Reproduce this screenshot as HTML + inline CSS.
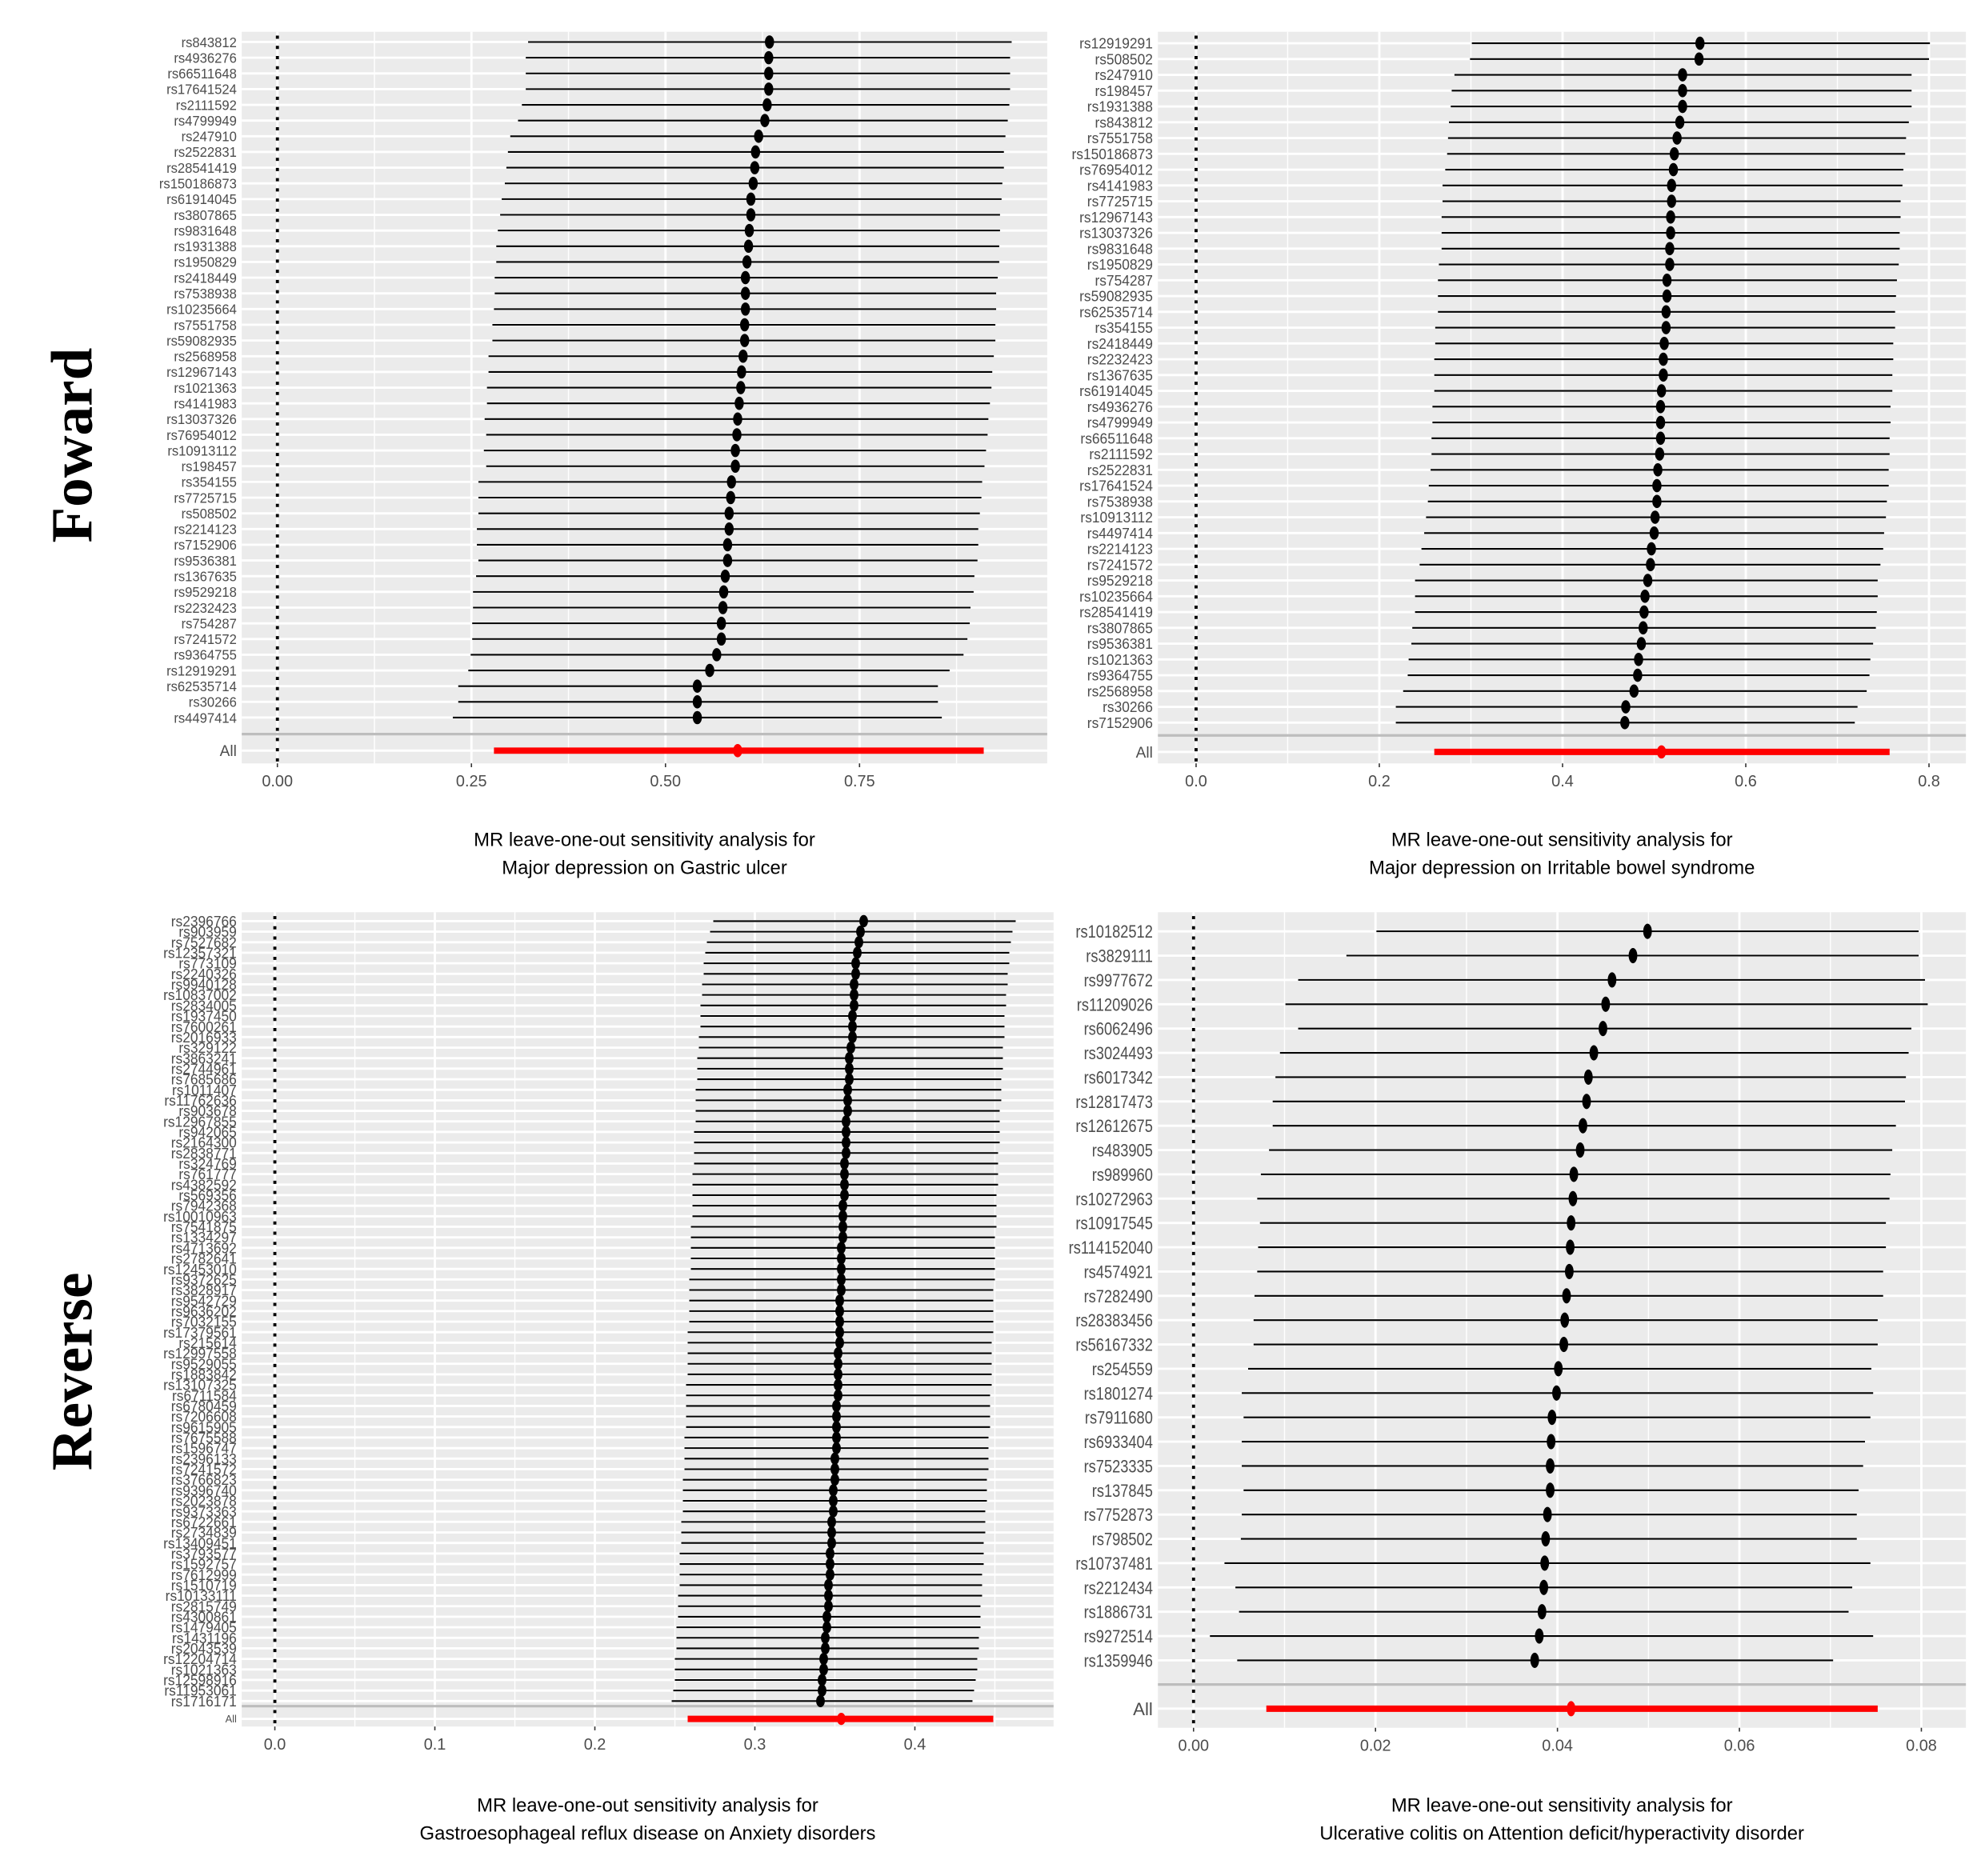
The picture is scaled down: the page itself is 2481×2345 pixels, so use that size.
<!DOCTYPE html>
<html><head><meta charset="utf-8">
<style>
html,body{margin:0;padding:0;background:#fff;}
svg{display:block;}
text{font-family:"Liberation Sans",Arial,sans-serif;}
</style></head>
<body>
<svg id="fig" width="2481" height="2345" viewBox="0 0 1560 1474.5" xmlns="http://www.w3.org/2000/svg">
<rect width="1560" height="1474.5" fill="#fff"/>
<text transform="translate(72,350) rotate(-90)" text-anchor="middle" font-family="Liberation Serif, serif" font-weight="bold" font-size="46" style="font-family:'Liberation Serif',serif">Foward</text>
<text transform="translate(72,1078) rotate(-90)" text-anchor="middle" font-weight="bold" font-size="46" style="font-family:'Liberation Serif',serif">Reverse</text>
</svg>
<script>
// ---------- Panel 1: Major depression on Gastric ulcer ----------
const p1Snps = ["rs843812","rs4936276","rs66511648","rs17641524","rs2111592","rs4799949","rs247910","rs2522831","rs28541419","rs150186873","rs61914045","rs3807865","rs9831648","rs1931388","rs1950829","rs2418449","rs7538938","rs10235664","rs7551758","rs59082935","rs2568958","rs12967143","rs1021363","rs4141983","rs13037326","rs76954012","rs10913112","rs198457","rs354155","rs7725715","rs508502","rs2214123","rs7152906","rs9536381","rs1367635","rs9529218","rs2232423","rs754287","rs7241572","rs9364755","rs12919291","rs62535714","rs30266","rs4497414"];
const p1Est = [.634,.633,.633,.633,.631,.628,.620,.616,.615,.613,.610,.610,.608,.607,.605,.603,.603,.603,.602,.602,.600,.598,.597,.595,.593,.592,.590,.590,.585,.584,.582,.582,.580,.580,.577,.575,.574,.572,.572,.566,.557,.541,.541,.541];
const p1Lo = [.323,.320,.320,.320,.315,.310,.300,.297,.295,.293,.289,.287,.284,.282,.282,.280,.280,.279,.277,.277,.272,.272,.270,.270,.267,.269,.266,.269,.259,.259,.259,.257,.257,.259,.256,.252,.252,.251,.251,.249,.246,.233,.233,.226];
const p1Hi = [.946,.944,.944,.944,.943,.941,.938,.936,.936,.934,.933,.931,.931,.930,.930,.928,.926,.926,.925,.925,.923,.921,.920,.918,.916,.915,.913,.911,.908,.907,.905,.903,.903,.902,.898,.897,.893,.892,.889,.884,.866,.851,.851,.856];
const p1All = [.593,.279,.910];
const p1Ticks = [0,0.25,0.5,0.75];
const p1TickLabels = ["0.00","0.25","0.50","0.75"];

// ---------- Panel 2: Major depression on IBS ----------
const p2Snps = ["rs12919291","rs508502","rs247910","rs198457","rs1931388","rs843812","rs7551758","rs150186873","rs76954012","rs4141983","rs7725715","rs12967143","rs13037326","rs9831648","rs1950829","rs754287","rs59082935","rs62535714","rs354155","rs2418449","rs2232423","rs1367635","rs61914045","rs4936276","rs4799949","rs66511648","rs2111592","rs2522831","rs17641524","rs7538938","rs10913112","rs4497414","rs2214123","rs7241572","rs9529218","rs10235664","rs28541419","rs3807865","rs9536381","rs1021363","rs9364755","rs2568958","rs30266","rs7152906"];
const p2Est = [.550,.549,.531,.531,.531,.528,.525,.522,.521,.519,.519,.518,.518,.517,.517,.514,.514,.513,.513,.511,.510,.510,.508,.507,.507,.507,.506,.504,.503,.503,.501,.500,.497,.496,.493,.490,.489,.488,.486,.483,.482,.478,.469,.468];
const p2Lo = [.301,.299,.282,.279,.278,.276,.275,.274,.272,.269,.269,.268,.268,.268,.265,.264,.264,.264,.261,.261,.260,.260,.260,.258,.258,.257,.257,.256,.254,.253,.251,.249,.246,.244,.239,.239,.239,.236,.235,.232,.231,.226,.218,.218];
const p2Hi = [.801,.800,.781,.781,.781,.778,.775,.774,.772,.771,.769,.769,.768,.768,.767,.765,.764,.763,.763,.761,.761,.760,.760,.758,.758,.757,.757,.756,.756,.754,.753,.751,.750,.747,.744,.744,.743,.742,.739,.736,.735,.732,.722,.719];
const p2All = [.508,.260,.757];
const p2Ticks = [0,0.2,0.4,0.6,0.8];
const p2TickLabels = ["0.0","0.2","0.4","0.6","0.8"];

// ---------- Panel 3: GERD on Anxiety disorders ----------
const p3Snps = ["rs2396766","rs903959","rs7527682","rs12357321","rs773109","rs2240326","rs9940128","rs10837002","rs2834005","rs1937450","rs7600261","rs2016933","rs329122","rs3863241","rs2744961","rs7685686","rs1011407","rs11762636","rs903678","rs12967855","rs942065","rs2164300","rs2838771","rs324769","rs761777","rs4382592","rs569356","rs7942368","rs10010963","rs7541875","rs1334297","rs4713692","rs2782641","rs12453010","rs9372625","rs3828917","rs9542729","rs9636202","rs7032155","rs17379561","rs215614","rs12997558","rs9529055","rs1883842","rs13107325","rs6711584","rs6780459","rs7206608","rs9615905","rs7675588","rs1596747","rs2396133","rs7241572","rs3766823","rs9396740","rs2023878","rs9373363","rs6722661","rs2734839","rs13409451","rs3793577","rs1592757","rs7612999","rs1510719","rs10133111","rs2815749","rs4300861","rs1479405","rs1431196","rs2043539","rs12204714","rs1021363","rs12598916","rs11953061","rs1716171"];
const p3Est = [.368,.366,.365,.364,.363,.363,.362,.362,.362,.361,.361,.361,.360,.359,.359,.359,.358,.358,.358,.357,.357,.357,.357,.356,.356,.356,.356,.355,.355,.355,.355,.354,.354,.354,.354,.354,.353,.353,.353,.353,.353,.352,.352,.352,.352,.352,.351,.351,.351,.351,.351,.350,.350,.350,.349,.349,.349,.348,.348,.348,.347,.347,.347,.346,.346,.346,.345,.345,.344,.344,.343,.343,.342,.342,.341];
const p3Lo = [.274,.272,.270,.269,.268,.268,.267,.267,.266,.266,.266,.265,.265,.264,.264,.264,.263,.263,.263,.263,.262,.262,.262,.262,.261,.261,.261,.261,.261,.260,.260,.260,.260,.260,.259,.259,.259,.259,.259,.258,.258,.258,.258,.258,.257,.257,.257,.257,.257,.256,.256,.256,.256,.255,.255,.255,.255,.254,.254,.254,.253,.253,.253,.253,.252,.252,.252,.251,.251,.251,.250,.250,.250,.249,.248];
const p3Hi = [.463,.461,.460,.459,.459,.458,.458,.457,.457,.456,.456,.456,.455,.455,.455,.454,.454,.454,.453,.453,.453,.453,.452,.452,.452,.452,.451,.451,.451,.451,.450,.450,.450,.450,.450,.449,.449,.449,.449,.449,.448,.448,.448,.448,.448,.447,.447,.447,.447,.446,.446,.446,.446,.445,.445,.445,.444,.444,.444,.443,.443,.443,.442,.442,.442,.441,.441,.441,.440,.440,.439,.439,.438,.437,.436];
const p3All = [.354,.258,.449];
const p3Ticks = [0,0.1,0.2,0.3,0.4];
const p3TickLabels = ["0.0","0.1","0.2","0.3","0.4"];

// ---------- Panel 4: UC on ADHD ----------
const p4Snps = ["rs10182512","rs3829111","rs9977672","rs11209026","rs6062496","rs3024493","rs6017342","rs12817473","rs12612675","rs483905","rs989960","rs10272963","rs10917545","rs114152040","rs4574921","rs7282490","rs28383456","rs56167332","rs254559","rs1801274","rs7911680","rs6933404","rs7523335","rs137845","rs7752873","rs798502","rs10737481","rs2212434","rs1886731","rs9272514","rs1359946"];
const p4Est = [.0499,.0483,.0460,.0453,.0450,.0440,.0434,.0432,.0428,.0425,.0418,.0417,.0415,.0414,.0413,.0410,.0408,.0407,.0401,.0399,.0394,.0393,.0392,.0392,.0389,.0387,.0386,.0385,.0383,.0380,.0375];
const p4Lo = [.0201,.0168,.0115,.0101,.0115,.0095,.0090,.0087,.0087,.0083,.0074,.0070,.0073,.0071,.0070,.0067,.0066,.0066,.0060,.0053,.0055,.0053,.0053,.0055,.0053,.0052,.0034,.0046,.0050,.0018,.0048];
const p4Hi = [.0797,.0797,.0804,.0807,.0789,.0786,.0783,.0782,.0772,.0768,.0766,.0765,.0761,.0761,.0758,.0758,.0752,.0752,.0745,.0747,.0744,.0738,.0736,.0731,.0729,.0729,.0744,.0724,.0720,.0747,.0703];
const p4All = [.0415,.0080,.0752];
const p4Ticks = [0,0.02,0.04,0.06,0.08];
const p4TickLabels = ["0.00","0.02","0.04","0.06","0.08"];

const NS = "http://www.w3.org/2000/svg";
const svg = document.getElementById("fig");
function mk(tag, attrs, parent){
  const e = document.createElementNS(NS, tag);
  for (const k in attrs) e.setAttribute(k, attrs[k]);
  (parent||svg).appendChild(e);
  return e;
}

function panel(cfg){
  const g = mk("g", {});
  
  
  const xs = v => cfg.zx + (v - 0) * cfg.scale;
  const n = cfg.snps.length;
  const ys = i => cfg.yFirst + i * (cfg.yLast - cfg.yFirst) / (n - 1);
  const bg = mk("rect", {x:cfg.x0, y:cfg.y0, width:cfg.x1-cfg.x0, height:cfg.y1-cfg.y0, fill:"#ebebeb"}, g);
  
  
  // vertical gridlines (major + minor)
  const step = cfg.ticks[1]-cfg.ticks[0];
  for (let k = 0; k < cfg.ticks.length; k++){
    const v = cfg.ticks[k];
    const gl = mk("line", {x1:xs(v), x2:xs(v), y1:cfg.y0, y2:cfg.y1, stroke:"#fff", "stroke-width":1.8}, g);
    
    
    const mv = v + step/2;
    if (xs(mv) < cfg.x1){
      const ml = mk("line", {x1:xs(mv), x2:xs(mv), y1:cfg.y0, y2:cfg.y1, stroke:"#fff", "stroke-width":0.9}, g);
      
      
    }
    if (k === 0 && xs(v - step/2) > cfg.x0){
      const ml2 = mk("line", {x1:xs(v-step/2), x2:xs(v-step/2), y1:cfg.y0, y2:cfg.y1, stroke:"#fff", "stroke-width":0.9}, g);
      
      
    }
    const tk = mk("line", {x1:xs(v), x2:xs(v), y1:cfg.y1, y2:cfg.y1+3, stroke:"#333", "stroke-width":1}, g);
    
    
    const tl = mk("text", {x:xs(v), y:cfg.y1+18, "text-anchor":"middle", "font-size":cfg.tickFont, fill:"#4d4d4d"}, g);
    tl.textContent = cfg.tickLabels[k];
    
    
  }
  // horizontal gridlines and labels
  for (let i = 0; i < n; i++){
    const y = ys(i);
    const hl = mk("line", {x1:cfg.x0, x2:cfg.x1, y1:y, y2:y, stroke:"#fff", "stroke-width":1.8}, g);
    
    
    const lb = mk("text", {x:cfg.x0-4, y:y+cfg.labFont*0.36, "text-anchor":"end", "font-size":cfg.labFont, fill:"#4d4d4d"}, g);
    lb.textContent = cfg.snps[i];
    if (cfg.condense) lb.setAttribute("transform", `translate(${cfg.x0-4},0) scale(${cfg.condense},1) translate(${-(cfg.x0-4)},0)`);
    
    
  }
  // All row gridline + label
  const hlA = mk("line", {x1:cfg.x0, x2:cfg.x1, y1:cfg.yAll, y2:cfg.yAll, stroke:"#fff", "stroke-width":1.8}, g);
  
  
  const la = mk("text", {x:cfg.x0-4, y:cfg.yAll+cfg.allFont*0.36, "text-anchor":"end", "font-size":cfg.allFont, fill:"#4d4d4d"}, g);
  la.textContent = "All";
  
  
  // separator
  const sep = mk("line", {x1:cfg.x0, x2:cfg.x1, y1:cfg.ySep, y2:cfg.ySep, stroke:"#bdbdbd", "stroke-width":2}, g);
  
  
  // zero dotted line
  const zl = mk("line", {x1:xs(0), x2:xs(0), y1:cfg.y0+3, y2:cfg.y1, stroke:"#000", "stroke-width":2.4, "stroke-dasharray":"2.5 5.5"}, g);
  
  
  // CI lines and points
  for (let i = 0; i < n; i++){
    const y = ys(i);
    const ci = mk("line", {x1:xs(cfg.lo[i]), x2:xs(cfg.hi[i]), y1:y, y2:y, stroke:"#000", "stroke-width":1.3}, g);
    
    
  }
  for (let i = 0; i < n; i++){
    const y = ys(i);
    const pt = mk("ellipse", {cx:xs(cfg.est[i]), cy:y, rx:cfg.rx, ry:cfg.ry, fill:"#000"}, g);
    
    
  }
  const ca = mk("line", {x1:xs(cfg.all[1]), x2:xs(cfg.all[2]), y1:cfg.yAll, y2:cfg.yAll, stroke:"#ff0000", "stroke-width":5}, g);
  
  
  const pa = mk("ellipse", {cx:xs(cfg.all[0]), cy:cfg.yAll, rx:cfg.rx, ry:cfg.ry, fill:"#ff0000"}, g);
  
  
  // title
  const cx = (cfg.x0 + cfg.x1)/2;
  const t1 = mk("text", {x:cx, y:cfg.titleY, "text-anchor":"middle", "font-size":15, fill:"#000"}, g);
  t1.textContent = "MR leave-one-out sensitivity analysis for";
  
  
  const t2 = mk("text", {x:cx, y:cfg.titleY+22, "text-anchor":"middle", "font-size":15, fill:"#000"}, g);
  t2.textContent = cfg.title2;
  
  
}

panel({name:"panel-gastric-ulcer", snps:p1Snps, est:p1Est, lo:p1Lo, hi:p1Hi, all:p1All, ticks:p1Ticks, tickLabels:p1TickLabels,
  x0:190, x1:823, y0:25, y1:600, zx:218, scale:610, yFirst:33, yLast:564, ySep:577, yAll:590,
  labFont:11, allFont:12, tickFont:12.5, condense:0.95, rx:3.6, ry:5.2, titleY:665, title2:"Major depression on Gastric ulcer"});
panel({name:"panel-irritable-bowel-syndrome", snps:p2Snps, est:p2Est, lo:p2Lo, hi:p2Hi, all:p2All, ticks:p2Ticks, tickLabels:p2TickLabels,
  x0:910, x1:1545, y0:25, y1:600, zx:940, scale:720, yFirst:34, yLast:568, ySep:578, yAll:591,
  labFont:11.5, allFont:12, tickFont:12.5, condense:0.95, rx:3.6, ry:5.2, titleY:665, title2:"Major depression on Irritable bowel syndrome"});
panel({name:"panel-anxiety-disorders", snps:p3Snps, est:p3Est, lo:p3Lo, hi:p3Hi, all:p3All, ticks:p3Ticks, tickLabels:p3TickLabels,
  x0:190, x1:828, y0:717, y1:1357, zx:216, scale:1257.5, yFirst:724, yLast:1337, ySep:1341, yAll:1351,
  labFont:11.5, allFont:8, tickFont:12.5, condense:0.95, rx:3.4, ry:4.8, titleY:1424, title2:"Gastroesophageal reflux disease on Anxiety disorders"});
panel({name:"panel-adhd", snps:p4Snps, est:p4Est, lo:p4Lo, hi:p4Hi, all:p4All, ticks:p4Ticks, tickLabels:p4TickLabels,
  x0:910, x1:1545, y0:717, y1:1358, zx:938, scale:7150, yFirst:732, yLast:1305, ySep:1324, yAll:1343,
  labFont:14, allFont:14, tickFont:12.5, condense:0.82, rx:3.4, ry:6, titleY:1424, title2:"Ulcerative colitis on Attention deficit/hyperactivity disorder"});
</script>
</body></html>
